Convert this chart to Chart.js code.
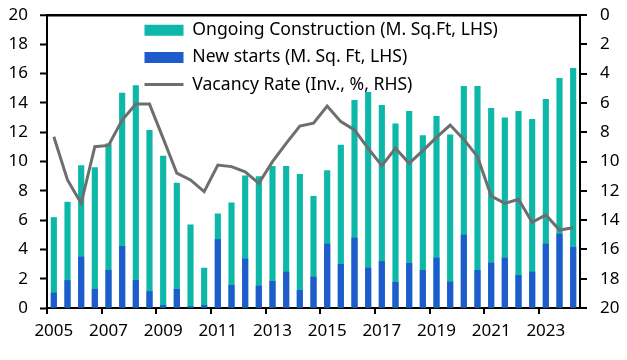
<!DOCTYPE html>
<html>
<head>
<meta charset="utf-8">
<script src="https://cdn.jsdelivr.net/npm/chart.js@4/dist/chart.umd.min.js"></script>
<style>
  html, body { margin: 0; padding: 0; background: #fff; }
  #wrap { width: 627px; height: 360px; position: relative; }
</style>
</head>
<body>
<div id="wrap"><canvas id="c" width="627" height="360"></canvas></div>
<script>
// Half-yearly periods, 2005 H1 .. 2024 H1
const periods = [];
for (let y = 2005; y <= 2024; y++) {
  periods.push(y + ' H1');
  if (y < 2024) periods.push(y + ' H2');
}
const yearTickLabels = ['2005','2007','2009','2011','2013','2015','2017','2019','2021','2023'];

const ongoingConstruction = [
  6.2, 7.25, 9.75, 9.6, 11.25, 14.7, 15.2, 12.15, 10.4, 8.55,
  5.7, 2.75, 6.45, 7.2, 9.05, 9.0, 9.7, 9.7, 9.15, 7.65,
  9.4, 11.15, 14.2, 14.75, 13.85, 12.6, 13.45, 11.8, 13.1, 11.85,
  15.15, 15.15, 13.65, 13.0, 13.45, 12.9, 14.27, 15.7, 16.38
];
const newStarts = [
  1.05, 1.9, 3.5, 1.3, 2.6, 4.23, 1.9, 1.15, 0.2, 1.3,
  0.12, 0.2, 4.7, 1.57, 3.37, 1.52, 1.84, 2.48, 1.23, 2.14,
  4.39, 3.0, 4.8, 2.75, 3.2, 1.77, 3.07, 2.59, 3.44, 1.8,
  5.0, 2.59, 3.09, 3.43, 2.25, 2.48, 4.39, 5.07, 4.16
];
const vacancyRate = [
  8.31, 11.26, 12.85, 8.99, 8.9, 7.17, 6.08, 6.08, 8.42, 10.8,
  11.26, 12.06, 10.24, 10.35, 10.7, 11.49, 10.01, 8.76, 7.58, 7.39,
  6.21, 7.28, 7.85, 9.10, 10.28, 9.10, 10.12, 9.26, 8.35, 7.51,
  8.49, 9.67, 12.36, 12.86, 12.58, 14.15, 13.65, 14.68, 14.52
];
const axisTicks = [0, 2, 4, 6, 8, 10, 12, 14, 16, 18, 20];

const TEAL = '#0db8a8';
const BLUE = '#1f5bcc';
const GREY = '#6e6e6e';

Chart.defaults.font.family = "'Noto Sans', sans-serif";
Chart.defaults.font.size = 17;
Chart.defaults.color = '#000';

const legendShift = {
  id: 'legendShift',
  afterLayout(chart) {
    const lg = chart.legend;
    const ca = chart.chartArea;
    if (!lg) return;
    lg.left = ca.left + 88;
    lg.right = lg.left + lg.width;
    lg.top = ca.top - 3;
    lg.bottom = lg.top + lg.height;
  }
};

const noPad = (s) => { s.paddingTop = 0; s.paddingBottom = 0; s.paddingLeft = 0; s.paddingRight = 0; };

const tickLabel = (val, idx) => {
  const p = periods[idx];
  const yr = p.slice(0, 4);
  return (p.endsWith('H1') && yearTickLabels.includes(yr)) ? yr : '';
};

new Chart(document.getElementById('c'), {
  type: 'bar',
  data: {
    labels: periods,
    datasets: [
      {
        label: 'Ongoing Construction (M. Sq.Ft, LHS)',
        data: ongoingConstruction,
        backgroundColor: TEAL,
        borderWidth: 0,
        grouped: false,
        barPercentage: 0.45,
        categoryPercentage: 1,
        yAxisID: 'y',
        order: 2
      },
      {
        label: 'New starts (M. Sq. Ft, LHS)',
        data: newStarts,
        backgroundColor: BLUE,
        borderWidth: 0,
        grouped: false,
        barPercentage: 0.45,
        categoryPercentage: 1,
        yAxisID: 'y',
        order: 1
      },
      {
        type: 'line',
        label: 'Vacancy Rate (Inv., %, RHS)',
        data: vacancyRate,
        borderColor: GREY,
        backgroundColor: GREY,
        borderWidth: 3,
        pointRadius: 0,
        tension: 0,
        yAxisID: 'y2',
        order: 0
      }
    ]
  },
  plugins: [legendShift],
  options: {
    responsive: false,
    animation: false,
    layout: { padding: { top: 15, left: 0, right: 0, bottom: 0 }, autoPadding: false },
    plugins: {
      tooltip: { enabled: false },
      legend: {
        position: 'chartArea',
        align: 'start',
        labels: {
          usePointStyle: true,
          pointStyleWidth: 39,
          boxHeight: 11,
          padding: 9.5,
          color: '#000',
          font: { size: 17.6 },
          generateLabels(chart) {
            const items = Chart.defaults.plugins.legend.labels.generateLabels(chart);
            items.forEach(it => {
              const ds = chart.data.datasets[it.datasetIndex];
              if (ds.type === 'line') {
                it.pointStyle = 'line';
                it.strokeStyle = GREY;
                it.lineWidth = 3;
              } else {
                it.pointStyle = 'rect';
                it.lineWidth = 0;
              }
            });
            return items.sort((a, b) => a.datasetIndex - b.datasetIndex);
          }
        }
      }
    },
    scales: {
      x: {
        type: 'category',
        position: 'bottom',
        offset: true,
        afterFit(s) { s.height = 52; noPad(s); },
        grid: {
          offset: true,
          drawOnChartArea: false,
          drawTicks: true,
          tickLength: 6,
          tickWidth: 2,
          lineWidth: 2,
          tickColor: (ctx) => (ctx.index % 4 === 0 ? '#000' : 'rgba(0,0,0,0)'),
          color: '#000'
        },
        border: { display: true, color: '#000', width: 2 },
        ticks: {
          autoSkip: false,
          maxRotation: 0,
          minRotation: 0,
          padding: 7,
          color: '#000',
          font: { size: 17 },
          callback: tickLabel
        }
      },
      y: {
        position: 'left',
        min: 0,
        max: 20,
        afterFit(s) { s.width = 47; noPad(s); },
        afterBuildTicks(s) { s.ticks = axisTicks.map(v => ({ value: v })); },
        grid: {
          drawOnChartArea: true,
          tickLength: 7,
          tickWidth: 2,
          tickColor: '#000',
          color: (ctx) => (ctx.tick && ctx.tick.value === 20 ? '#000' : 'rgba(0,0,0,0)'),
          lineWidth: (ctx) => (ctx.tick && ctx.tick.value === 20 ? 2.5 : 1)
        },
        border: { display: true, color: '#000', width: 2 },
        ticks: { padding: 12, color: '#000', font: { size: 17 } }
      },
      y2: {
        position: 'right',
        reverse: true,
        min: 0,
        max: 20,
        afterFit(s) { s.width = 47; noPad(s); },
        afterBuildTicks(s) { s.ticks = axisTicks.map(v => ({ value: v })); },
        grid: {
          drawOnChartArea: false,
          tickLength: 7,
          tickWidth: 2,
          color: '#000',
          lineWidth: 2
        },
        border: { display: true, color: '#000', width: 2 },
        ticks: { padding: 13, color: '#000', font: { size: 17 } }
      }
    }
  }
});
</script>
</body>
</html>
